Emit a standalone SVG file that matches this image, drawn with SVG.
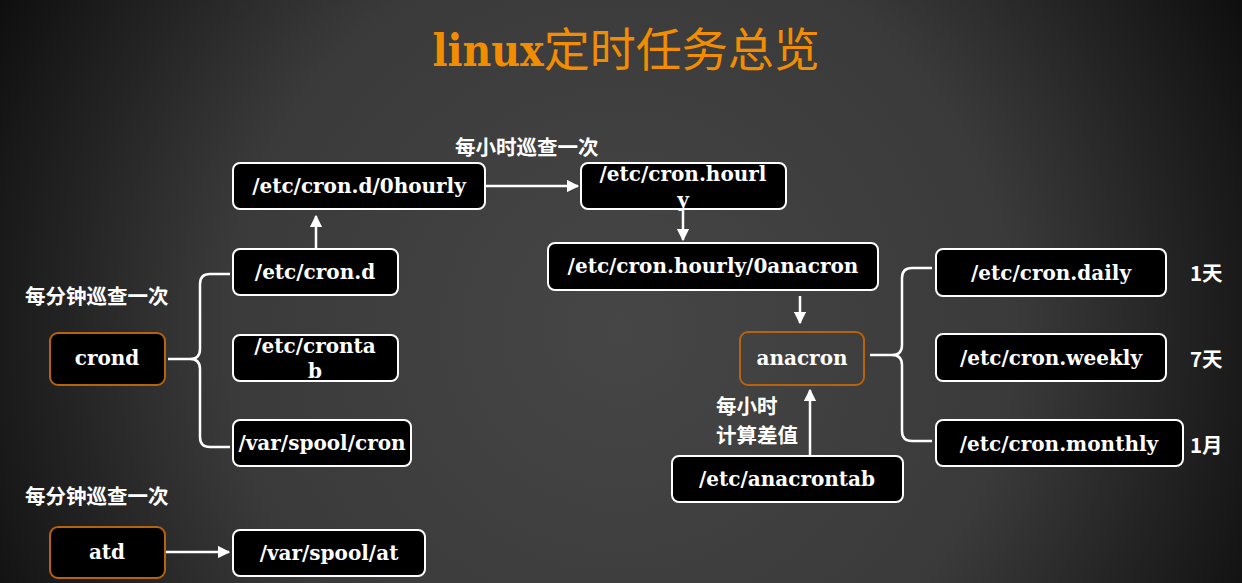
<svg xmlns="http://www.w3.org/2000/svg" width="1242" height="583" viewBox="0 0 1242 583">
<defs>
<radialGradient id="bg" cx="620" cy="330" r="720" gradientUnits="userSpaceOnUse">
<stop offset="0" stop-color="#464646"/>
<stop offset="0.55" stop-color="#3a3a3a"/>
<stop offset="1" stop-color="#0c0c0c"/>
</radialGradient>
<marker id="ah" viewBox="0 0 10 10" refX="9" refY="5" markerWidth="5" markerHeight="5" orient="auto" markerUnits="strokeWidth">
<path d="M0,0 L10,5 L0,10 z" fill="#ffffff"/>
</marker>
<style>
.box{fill:#000;stroke:#fff;stroke-width:2}
.obox{fill:#000;stroke:#b8620e;stroke-width:2}
.abox{fill:none;stroke:#b8620e;stroke-width:2}
.t{font-family:"DejaVu Serif",serif;font-weight:bold;font-size:20px;fill:#fff;text-anchor:middle}
.c{font-family:"Noto Sans CJK SC",sans-serif;font-weight:bold;font-size:20.5px;fill:#fff}
.line{fill:none;stroke:#fff;stroke-width:2.5}
</style>
</defs>
<rect width="1242" height="583" fill="url(#bg)"/>
<g id="title">
<text x="626" y="66" text-anchor="middle" fill="#f28c00"><tspan font-family="DejaVu Serif,serif" font-stretch="condensed" font-weight="bold" font-size="44">linux</tspan><tspan font-family="Noto Sans CJK SC,sans-serif" font-size="46">定时任务总览</tspan></text>
</g>
<g id="connectors">
<path class="line" d="M485,186 L578,186" marker-end="url(#ah)"/>
<path class="line" d="M316,248 L316,216" marker-end="url(#ah)"/>
<path class="line" d="M683,209 L683,240" marker-end="url(#ah)"/>
<path class="line" d="M800,296 L800,323" marker-end="url(#ah)"/>
<path class="line" d="M810,455 L810,390" marker-end="url(#ah)"/>
<path class="line" d="M165,552 L229,552" marker-end="url(#ah)"/>
<path class="line" d="M230,274 L210,274 Q200,274 200,284 L200,349 Q200,359 190,359 L168,359 M190,359 Q200,359 200,369 L200,437 Q200,447 210,447 L230,447"/>
<path class="line" d="M932,268 L912,268 Q902,268 902,278 L902,345 Q902,355 892,355 L870,355 M892,355 Q902,355 902,365 L902,431 Q902,441 912,441 L932,441"/>
</g>
<g id="label-hourly"><text class="c" x="455" y="155">每小时巡查一次</text></g>
<g id="label-min1"><text class="c" x="25" y="304">每分钟巡查一次</text></g>
<g id="label-min2"><text class="c" x="25" y="504">每分钟巡查一次</text></g>
<g id="label-diff"><text class="c" x="716" y="414" font-size="19">每小时</text><text class="c" x="716" y="443" font-size="19">计算差值</text></g>
<g id="n-0hourly"><rect class="box" x="233" y="163" width="252" height="46" rx="7"/><text class="t" x="359" y="193">/etc/cron.d/0hourly</text></g>
<g id="n-hourly"><rect class="box" x="581" y="163" width="205" height="46" rx="7"/><text class="t" x="683" y="181">/etc/cron.hourl</text><text class="t" x="683" y="207">y</text></g>
<g id="n-crond-dir"><rect class="box" x="233" y="249" width="165" height="46" rx="7"/><text class="t" x="315" y="279">/etc/cron.d</text></g>
<g id="n-crontab"><rect class="box" x="233" y="335" width="165" height="46" rx="7"/><text class="t" x="315" y="353">/etc/cronta</text><text class="t" x="315" y="378">b</text></g>
<g id="n-spoolcron"><rect class="box" x="233" y="420" width="178" height="46" rx="7"/><text class="t" x="322" y="450">/var/spool/cron</text></g>
<g id="n-crond"><rect class="obox" x="50" y="333" width="115" height="52" rx="8"/><text class="t" x="107" y="365">crond</text></g>
<g id="n-atd"><rect class="obox" x="50" y="527" width="115" height="51" rx="8"/><text class="t" x="107" y="559">atd</text></g>
<g id="n-spoolat"><rect class="box" x="233" y="530" width="192" height="46" rx="7"/><text class="t" x="329" y="560">/var/spool/at</text></g>
<g id="n-0anacron"><rect class="box" x="548" y="243" width="330" height="47" rx="7"/><text class="t" x="713" y="273">/etc/cron.hourly/0anacron</text></g>
<g id="n-anacron"><rect class="abox" x="740" y="332" width="124" height="53" rx="8"/><text class="t" x="802" y="365">anacron</text></g>
<g id="n-anacrontab"><rect class="box" x="672" y="456" width="231" height="46" rx="7"/><text class="t" x="787" y="486">/etc/anacrontab</text></g>
<g id="n-daily"><rect class="box" x="936" y="249" width="230" height="47" rx="7"/><text class="t" x="1051" y="280">/etc/cron.daily</text></g>
<g id="n-weekly"><rect class="box" x="936" y="334" width="230" height="47" rx="7"/><text class="t" x="1051" y="365">/etc/cron.weekly</text></g>
<g id="n-monthly"><rect class="box" x="936" y="420" width="247" height="46" rx="7"/><text class="t" x="1059" y="451">/etc/cron.monthly</text></g>
<g id="lbl-1d"><text class="c" x="1190" y="281">1天</text></g>
<g id="lbl-7d"><text class="c" x="1190" y="367">7天</text></g>
<g id="lbl-1m"><text class="c" x="1190" y="453">1月</text></g>
</svg>
